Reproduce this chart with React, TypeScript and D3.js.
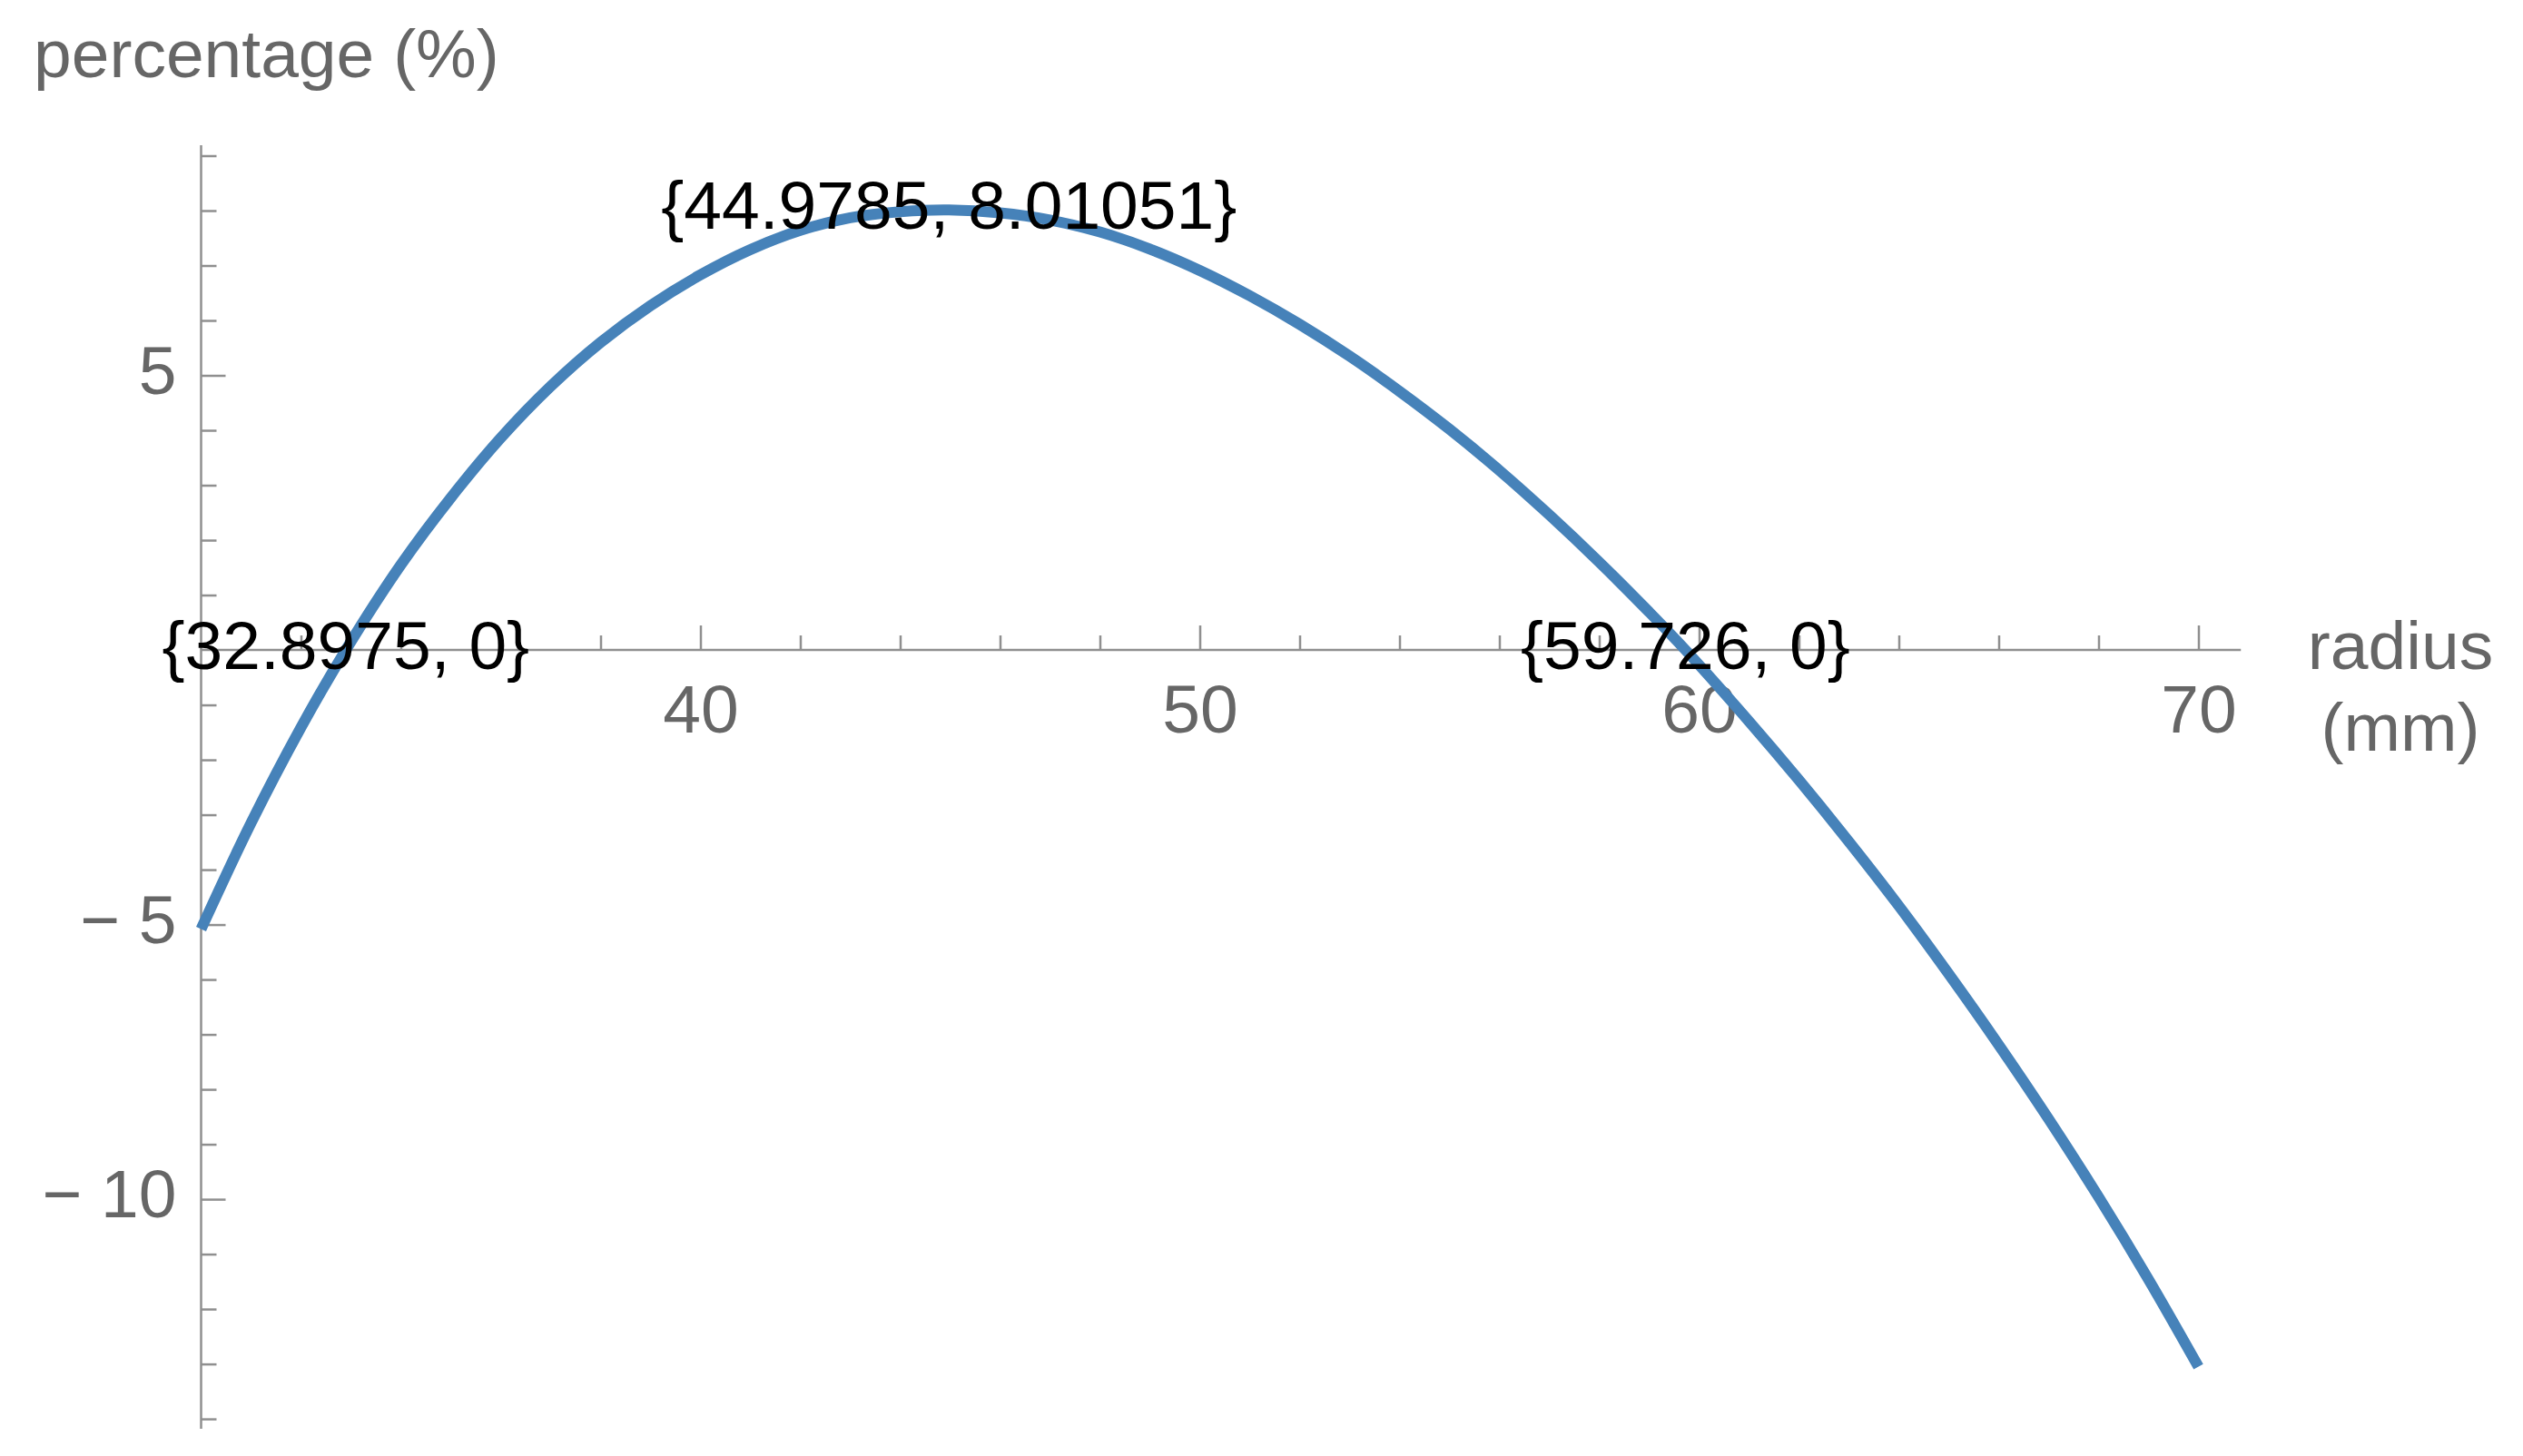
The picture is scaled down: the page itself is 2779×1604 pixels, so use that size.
import React, { useEffect, useRef } from 'react'
import * as d3 from 'd3'

// curve (radius in mm, percentage in %)
const radius = [30, 31, 32, 32.8975, 34, 35, 36, 37, 38, 39, 40, 41, 42, 43, 44, 44.9785, 46, 47, 48, 49, 50, 51, 52, 53, 54, 55, 56, 57, 58, 59, 59.726, 61, 62, 63, 64, 65, 66, 67, 68, 69, 70]
const percentage = [-5.08, -3.15, -1.41, 0, 1.55, 2.77, 3.86, 4.8, 5.6, 6.27, 6.83, 7.29, 7.64, 7.87, 7.98, 8.01051, 7.96, 7.83, 7.61, 7.3, 6.91, 6.45, 5.93, 5.35, 4.71, 4.02, 3.27, 2.46, 1.6, 0.69, 0, -1.3, -2.37, -3.49, -4.66, -5.9, -7.19, -8.54, -9.96, -11.46, -13.05]

// labelled points
const markRadius = [32.8975, 44.9785, 59.726]
const markPercentage = [0, 8.01051, 0]
const markLabels = ['{32.8975, 0}', '{44.9785, 8.01051}', '{59.726, 0}']

// ticks
const xMajor = [40, 50, 60, 70]
const xTickLabels = ['40', '50', '60', '70']
const xMinor = [32, 34, 36, 38, 42, 44, 46, 48, 52, 54, 56, 58, 62, 64, 66, 68]
const yMajor = [-10, -5, 5]
const yTickLabels = ['\u2212 10', '\u2212 5', '5']
const yMinor = [-14, -13, -12, -11, -9, -8, -7, -6, -4, -3, -2, -1, 1, 2, 3, 4, 6, 7, 8, 9]

const WIDTH = 2779
const HEIGHT = 1604
const FONT = '"Liberation Sans", Arial, Helvetica, sans-serif'
const AXIS_GRAY = '#8f8f8f'
const LABEL_GRAY = '#666666'
const CURVE_BLUE = '#4682b9'

export default function App () {
  const ref = useRef<SVGSVGElement>(null)

  useEffect(() => {
    const svg = d3.select(ref.current)
    svg.selectAll('*').remove()

    const x = d3.scaleLinear().domain([30, 70.85]).range([221.5, 2468.25])
    const y = d3.scaleLinear().domain([-14.18, 9.19]).range([1574, 160])

    // axis lines, crossing at (30, 0)
    svg.append('line')
      .attr('x1', x(30)).attr('x2', x(70.85))
      .attr('y1', y(0)).attr('y2', y(0))
      .attr('stroke', AXIS_GRAY).attr('stroke-width', 2.5)
    svg.append('line')
      .attr('x1', x(30)).attr('x2', x(30))
      .attr('y1', y(9.19)).attr('y2', y(-14.18))
      .attr('stroke', AXIS_GRAY).attr('stroke-width', 2.5)

    const styleAxis = (g: any) => {
      g.select('.domain').remove()
      g.selectAll('line').attr('stroke', AXIS_GRAY).attr('stroke-width', 2.5)
      g.selectAll('text')
        .attr('fill', LABEL_GRAY)
        .attr('font-family', FONT)
        .attr('font-size', 75)
    }

    // x axis: ticks point up, labels below
    svg.append('g')
      .attr('transform', `translate(0,${y(0)})`)
      .call(d3.axisBottom(x).tickValues(xMinor).tickSize(-16).tickFormat(() => ''))
      .call(styleAxis)
    svg.append('g')
      .attr('transform', `translate(0,${y(0)})`)
      .call(d3.axisBottom(x).tickValues(xMajor).tickSize(-27).tickPadding(38)
        .tickFormat((d, i) => xTickLabels[i]))
      .call(styleAxis)

    // y axis: ticks point right, labels left
    svg.append('g')
      .attr('transform', `translate(${x(30)},0)`)
      .call(d3.axisLeft(y).tickValues(yMinor).tickSize(-17).tickFormat(() => ''))
      .call(styleAxis)
    const yAxis = svg.append('g')
      .attr('transform', `translate(${x(30)},0)`)
      .call(d3.axisLeft(y).tickValues(yMajor).tickSize(-27).tickPadding(27)
        .tickFormat((d, i) => yTickLabels[i]))
      .call(styleAxis)
    yAxis.selectAll('text').attr('dy', '0.26em')

    // the curve
    const line = d3.line<number>()
      .x((d, i) => x(radius[i]))
      .y((d) => y(d))
      .curve(d3.curveCatmullRom.alpha(0.5))
    svg.append('path')
      .datum(percentage)
      .attr('d', line)
      .attr('fill', 'none')
      .attr('stroke', CURVE_BLUE)
      .attr('stroke-width', 12)

    // point labels, centred on the points
    svg.selectAll('text.mark')
      .data(markLabels)
      .enter()
      .append('text')
        .attr('class', 'mark')
        .attr('x', (d, i) => x(markRadius[i]))
        .attr('y', (d, i) => y(markPercentage[i]) + 21)
        .attr('text-anchor', 'middle')
        .attr('font-family', FONT)
        .attr('font-size', 75)
        .attr('fill', '#000')
        .text((d) => d)

    // axis titles
    svg.append('text')
      .attr('x', 37).attr('y', 85)
      .attr('font-family', FONT).attr('font-size', 75)
      .attr('fill', LABEL_GRAY)
      .text('percentage (%)')
    svg.append('text')
      .attr('x', 2644).attr('y', 737)
      .attr('text-anchor', 'middle')
      .attr('font-family', FONT).attr('font-size', 75)
      .attr('fill', LABEL_GRAY)
      .text('radius')
    svg.append('text')
      .attr('x', 2644).attr('y', 827)
      .attr('text-anchor', 'middle')
      .attr('font-family', FONT).attr('font-size', 75)
      .attr('fill', LABEL_GRAY)
      .text('(mm)')
  }, [])

  return (
    <svg
      ref={ref}
      width={WIDTH}
      height={HEIGHT}
      style={{ position: 'absolute', left: 0, top: 0, background: '#fff' }}
    />
  )
}
